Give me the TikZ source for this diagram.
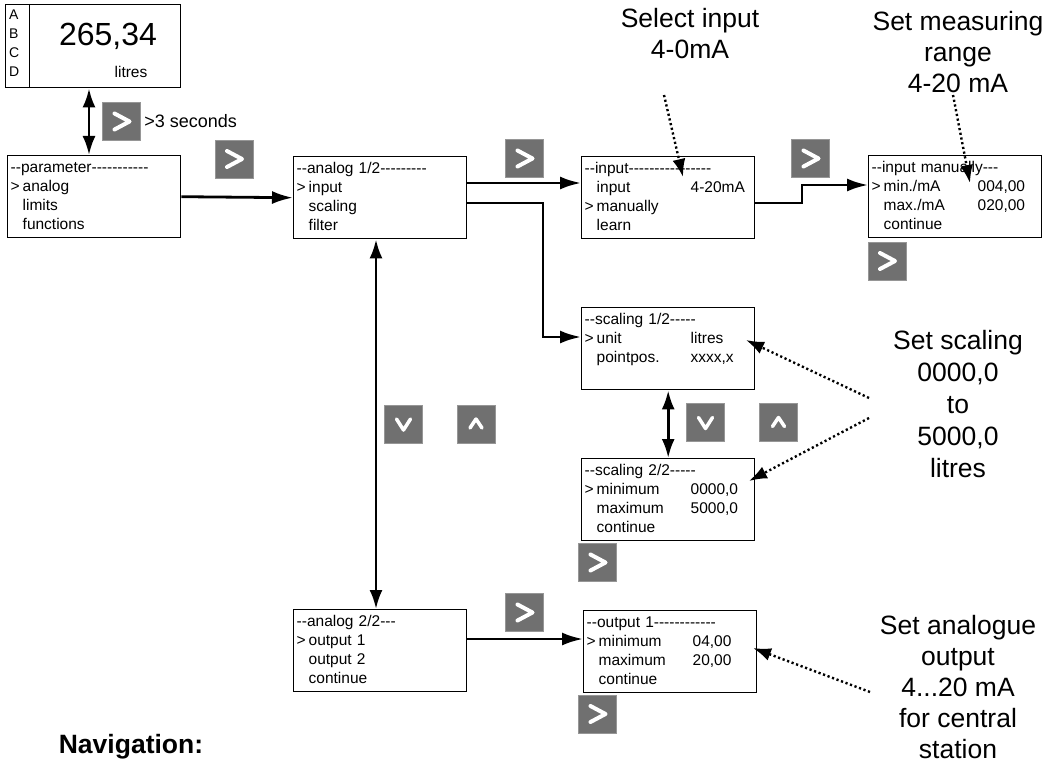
\documentclass[tikz,border=0pt]{standalone}
\usepackage{fontspec}
\setmainfont{Liberation Sans}[Ligatures=TeXOff]
\usetikzlibrary{arrows.meta,positioning}

\definecolor{btngray}{RGB}{112,112,112}
\definecolor{btnedge}{RGB}{150,150,150}

% menu line helpers
\newcommand{\menusel}{\makebox[12pt][l]{>}}
\newcommand{\menuskip}{\hspace*{12pt}}
\newcommand{\menurow}[2]{\makebox[94pt][l]{#1}#2}

\begin{document}
\begin{tikzpicture}[
      x=1pt, y=-1pt,
      menu/.style={
          draw, line width=1.4pt, anchor=north west,
          align=left, text width=167pt,
          inner xsep=3pt, inner ysep=0pt,
          minimum height=82pt,
          font=\fontsize{15.5}{19}\selectfont
        },
      btn/.style={fill=btngray, draw=btnedge, line width=0.8pt,
          minimum size=38pt, inner sep=0pt},
      btnright/.style={btn, path picture={
          \draw[white, line width=4pt, line cap=round, line join=round]
            ([shift={(-7pt,8pt)}]path picture bounding box.center)
            -- ++(15pt,-8pt) -- ++(-15pt,-8pt);}},
      btndown/.style={btn, path picture={
          \draw[white, line width=3.5pt, line cap=round, line join=round]
            ([shift={(-7pt,5pt)}]path picture bounding box.center)
            -- ++(7pt,-11pt) -- ++(7pt,11pt);}},
      btnup/.style={btn, path picture={
          \draw[white, line width=3.5pt, line cap=round, line join=round]
            ([shift={(-6pt,-4pt)}]path picture bounding box.center)
            -- ++(6pt,9pt) -- ++(6pt,-9pt);}},
      nav/.style={-{Latex[length=21pt,width=13pt]}, line width=2.8pt},
      nav2/.style={{Latex[length=19pt,width=13pt]}-{Latex[length=19pt,width=13pt]}, line width=2.8pt},
      hint/.style={-{Latex[length=18pt,width=13pt]}, line width=2.4pt,
          dash pattern=on 2.2pt off 2.6pt},
      annot/.style={align=center, font=\fontsize{26.5}{31}\selectfont},
    ]
    \useasboundingbox (0,0) rectangle (1056,762);

    % display
    \node[draw, line width=1.4pt, anchor=north west, minimum width=175pt,
      minimum height=83pt, inner sep=0pt] (disp) at (5,4) {};
    \draw[line width=1pt] ([xshift=24pt]disp.north west) -- ([xshift=24pt]disp.south west);
    \node[anchor=west, align=left, inner sep=0pt, font=\fontsize{14}{19}\selectfont] (abcd) at (9,43) {A\\B\\C\\D};
    \node[font=\fontsize{32}{36}\selectfont] (reading) at (108,36) {265,34};
    \node[font=\fontsize{15.5}{19}\selectfont] (unit) at (131,72) {litres};

    % menus
    \node[menu] (par) at (7,155) {\strut--parameter-----------\\
      \menusel analog\\
      \menuskip limits\\
      \menuskip functions\strut};
    \node[menu] (ana1) at (293,156) {\strut--analog 1/2---------\\
      \menusel input\\
      \menuskip scaling\\
      \menuskip filter\strut};
    \node[menu] (inp) at (581,156) {\strut--input----------------\\
      \menuskip\menurow{input}{4-20mA}\\
      \menusel manually\\
      \menuskip learn\strut};
    \node[menu] (inman) at (868,155) {\strut--input manually---\\
      \menusel\menurow{min./mA}{004,00}\\
      \menuskip\menurow{max./mA}{020,00}\\
      \menuskip continue\strut};
    \node[menu] (sc1) at (581,307) {\strut--scaling 1/2-----\\
      \menusel\menurow{unit}{litres}\\
      \menuskip\menurow{pointpos.}{xxxx,x}\\
      \strut};
    \node[menu] (sc2) at (581,458) {\strut--scaling 2/2-----\\
      \menusel\menurow{minimum}{0000,0}\\
      \menuskip\menurow{maximum}{5000,0}\\
      \menuskip continue\strut};
    \node[menu] (ana2) at (293,609) {\strut--analog 2/2---\\
      \menusel output 1\\
      \menuskip output 2\\
      \menuskip continue\strut};
    \node[menu] (out1) at (583,610) {\strut--output 1------------\\
      \menusel\menurow{minimum}{04,00}\\
      \menuskip\menurow{maximum}{20,00}\\
      \menuskip continue\strut};

    % keys
    \node[btnright] (okhold) at (121.5,121.5) {};
    \node[anchor=west, font=\fontsize{18}{22}\selectfont] (hold) at (okhold.east) {>3 seconds};
    \node[btnright] (okpar) at (234,159) {};
    \node[btnright] (okana) at (524.5,158.5) {};
    \node[btnright] (okinp) at (810.5,158.5) {};
    \node[btnright] (okman) at (887,261) {};
    \node[btndown] (dnana) at (403.5,424) {};
    \node[btnup] (upana) at (476,424) {};
    \node[btndown] (dnsc) at (705.5,422.5) {};
    \node[btnup] (upsc) at (778.5,422.5) {};
    \node[btnright] (oksc) at (597.5,562.5) {};
    \node[btnright] (okout) at (524.5,612.5) {};
    \node[btnright] (okset) at (597.5,714) {};

    % navigation arrows
    \draw[nav2] (disp.south -| 89,0) -- (par.north -| 89,0);
    \draw[nav] (par.east) -- (ana1.west);
    \draw[nav] (ana1.east |- 0,183) -- (inp.west |- 0,183);
    \draw[nav] (ana1.east |- 0,203) -- (543,203) -- (543,337) -- (sc1.west |- 0,337);
    \draw[nav] (inp.east |- 0,203) -- (802,203) -- (802,185) -- (inman.west |- 0,185);
    \draw[nav2] (sc1.south) -- (sc2.north);
    \draw[nav2] (ana1.south -| 376,0) -- (ana2.north -| 376,0);
    \draw[nav] (ana2.east |- 0,639) -- (out1.west |- 0,639);

    % notes
    \node[annot] (selnote) at (690,34) {Select input\\4-0mA};
    \node[annot] (rangenote) at (958,52) {Set measuring\\range\\4-20 mA};
    \node[annot, font=\fontsize{26.5}{32}\selectfont] (scalenote) at (958,404) {Set scaling\\0000,0\\to\\5000,0\\litres};
    \node[annot] (outnote) at (958,687) {Set analogue\\output\\4...20 mA\\for central\\station};
    \node[font=\bfseries\fontsize{26.5}{30}\selectfont] (navtitle) at (131,747) {Navigation:};

    \coordinate (selfrom) at (664,95);
    \coordinate (seltip) at (683,177);
    \coordinate (rangefrom) at (953,95);
    \coordinate (rangetip) at (970,183);
    \coordinate (scalefrom1) at (869,398);
    \coordinate (scaletip1) at (746,340);
    \coordinate (scalefrom2) at (869,418);
    \coordinate (scaletip2) at (749,481);
    \coordinate (outfrom) at (870,692);
    \coordinate (outtip) at (753,648);

    \draw[hint] (selfrom) -- (seltip);
    \draw[hint] (rangefrom) -- (rangetip);
    \draw[hint] (scalefrom1) -- (scaletip1);
    \draw[hint] (scalefrom2) -- (scaletip2);
    \draw[hint] (outfrom) -- (outtip);
  \end{tikzpicture}
\end{document}
